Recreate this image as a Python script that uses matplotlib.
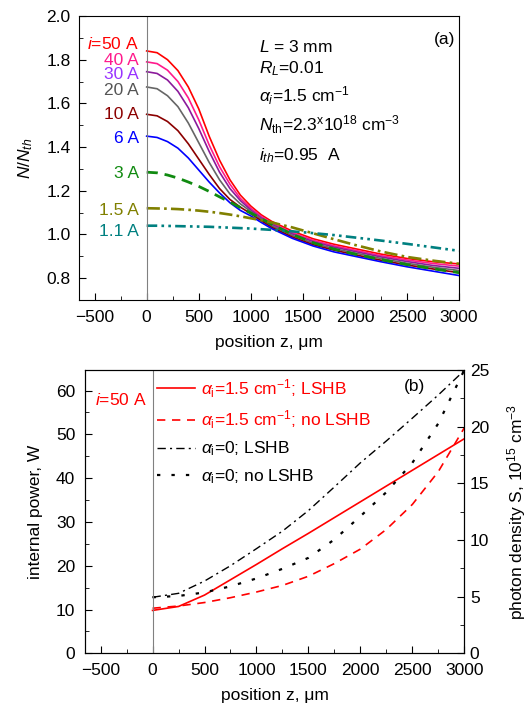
import numpy as np
import matplotlib
matplotlib.use('Agg')
import matplotlib.pyplot as plt
from matplotlib.ticker import MultipleLocator

plt.rcParams['font.family'] = ['Liberation Sans', 'DejaVu Sans']
plt.rcParams['mathtext.fontset'] = 'custom'
plt.rcParams['mathtext.rm'] = 'Liberation Sans'
plt.rcParams['mathtext.it'] = 'Liberation Sans:italic'
plt.rcParams['mathtext.bf'] = 'Liberation Sans:bold'

FS = 12.5

# ---- panel (a): N/Nth along the cavity ----
z_a = [0, 100, 200, 300, 400, 500, 600, 700, 800, 900, 1000, 1100, 1200,
       1400, 1600, 1800, 2000, 2250, 2500, 2750, 3000]
n_50 = [1.84, 1.832, 1.80, 1.75, 1.675, 1.575, 1.45, 1.34, 1.25, 1.18, 1.13, 1.09, 1.06,
        1.015, 0.98, 0.955, 0.935, 0.91, 0.89, 0.875, 0.865]
n_40 = [1.79, 1.782, 1.752, 1.70, 1.625, 1.525, 1.41, 1.31, 1.23, 1.165, 1.12, 1.083, 1.053,
        1.008, 0.973, 0.948, 0.928, 0.903, 0.883, 0.867, 0.855]
n_30 = [1.745, 1.737, 1.707, 1.655, 1.58, 1.485, 1.38, 1.285, 1.21, 1.155, 1.112, 1.076, 1.047,
        1.002, 0.967, 0.942, 0.922, 0.897, 0.876, 0.858, 0.845]
n_20 = [1.675, 1.667, 1.635, 1.585, 1.51, 1.42, 1.33, 1.25, 1.185, 1.14, 1.105, 1.07, 1.04,
        0.995, 0.96, 0.935, 0.915, 0.89, 0.868, 0.85, 0.835]
n_10 = [1.55, 1.543, 1.517, 1.475, 1.415, 1.345, 1.275, 1.21, 1.16, 1.125, 1.095, 1.063, 1.033,
        0.988, 0.953, 0.928, 0.907, 0.882, 0.86, 0.842, 0.825]
n_6 = [1.45, 1.444, 1.425, 1.395, 1.35, 1.295, 1.24, 1.19, 1.145, 1.11, 1.085, 1.055, 1.027,
       0.982, 0.947, 0.92, 0.90, 0.875, 0.852, 0.832, 0.812]
n_3 = [1.285, 1.282, 1.272, 1.258, 1.24, 1.22, 1.197, 1.172, 1.148, 1.123, 1.098, 1.073, 1.047,
       1.0, 0.962, 0.933, 0.91, 0.885, 0.862, 0.843, 0.825]
n_15 = [1.12, 1.119, 1.118, 1.116, 1.113, 1.109, 1.104, 1.098, 1.091, 1.083, 1.074, 1.065, 1.055,
        1.032, 1.005, 0.978, 0.952, 0.922, 0.897, 0.88, 0.866]
n_11 = [1.04, 1.04, 1.039, 1.038, 1.037, 1.036, 1.035, 1.033, 1.031, 1.029, 1.027, 1.024, 1.021,
        1.014, 1.006, 0.997, 0.986, 0.972, 0.957, 0.941, 0.925]

currents = ['$i$=50 A', '40 A', '30 A', '20 A', '10 A', '6 A', '3 A', '1.5 A', '1.1 A']
label_y = [1.848, 1.774, 1.710, 1.637, 1.530, 1.418, 1.259, 1.091, 0.994]

# ---- panel (b): internal power at i=50 A ----
z_b = [0, 250, 500, 750, 1000, 1250, 1500, 1750, 2000, 2250, 2500, 2750, 3000]
p_lshb = [9.8, 10.7, 13.3, 16.8, 20.3, 23.9, 27.4, 31.0, 34.6, 38.2, 41.8, 45.4, 49.0]
p_nolshb = [10.3, 10.8, 11.6, 12.7, 14.0, 15.5, 17.6, 20.5, 23.8, 28.3, 34.0, 41.5, 51.5]
p0_lshb = [12.8, 13.7, 16.5, 20.0, 23.9, 27.9, 32.6, 38.0, 43.5, 48.5, 53.7, 59.0, 64.6]
p0_nolshb = [12.8, 13.1, 13.9, 15.3, 17.1, 19.3, 21.8, 26.0, 31.3, 36.8, 43.5, 52.5, 64.7]

fig = plt.figure(figsize=(5.31, 7.05), dpi=100)
ax1 = fig.add_axes([0.1488, 0.5745, 0.7156, 0.4028])
ax2 = fig.add_axes([0.1601, 0.0733, 0.7143, 0.4019])

# panel (a)
series = [(n_50, '#ff0000', '-', 1.2),
          (n_40, '#ff1a8c', '-', 1.2),
          (n_30, '#8b1a9b', '-', 1.2),
          (n_20, '#666666', '-', 1.2),
          (n_10, '#8b0000', '-', 1.2),
          (n_6, '#0000ff', '-', 1.2),
          (n_3, '#108a10', (0, (4, 2.5)), 2.0),
          (n_15, '#808000', (0, (5, 1.6, 1, 1.6)), 1.9),
          (n_11, '#008080', (0, (4, 1.6, 1, 1.6, 1, 1.6)), 1.9)]
label_colors = ['#ff0000', '#ff1a8c', '#9933ff', '#555555', '#8b0000', '#0000ff',
                '#108a10', '#808000', '#008080']
for (vals, col, ls, lw), txt, ly, lc in zip(series, currents, label_y, label_colors):
    ax1.plot(z_a, vals, color=col, linestyle=ls, linewidth=lw)
    ax1.text(-75, ly, txt, color=lc, fontsize=FS, ha='right', va='baseline')

ax1.axvline(0, color='#808080', linewidth=0.8)
ax1.set_xlim(-650, 3000)
ax1.set_ylim(0.7, 2.0)
ax1.xaxis.set_major_locator(MultipleLocator(500))
ax1.xaxis.set_minor_locator(MultipleLocator(250))
ax1.yaxis.set_minor_locator(MultipleLocator(0.1))
ax1.set_yticks([0.8, 1.0, 1.2, 1.4, 1.6, 1.8, 2.0])
ax1.tick_params(which='both', direction='in', labelsize=FS)
ax1.tick_params(which='major', length=5)
ax1.tick_params(which='minor', length=3)
ax1.tick_params(axis='x', pad=7)
ax1.tick_params(axis='y', pad=6)
ax1.set_xlabel('position z, μm', fontsize=FS)
ax1.set_ylabel('$N/N_{th}$', fontsize=FS)
ax1.xaxis.set_label_coords(0.5, -0.123)
ax1.yaxis.set_label_coords(-0.116, 0.5)

ax1.text(1078, 1.837, '$L$ = 3 mm', fontsize=FS, va='baseline')
ax1.text(1078, 1.738, '$R_L$=0.01', fontsize=FS, va='baseline')
ax1.text(1078, 1.608, r'$\alpha_i$=1.5 cm$^{-1}$', fontsize=FS, va='baseline')
ax1.text(1078, 1.475, r'$N_{\rm th}$=2.3$^{\rm x}$10$^{18}$ cm$^{-3}$', fontsize=FS, va='baseline')
ax1.text(1078, 1.338, '$i_{th}$=0.95  A', fontsize=FS, va='baseline')
ax1.text(2960, 1.872, '(a)', fontsize=FS, ha='right', va='baseline')

# panel (b)
ax2.plot(z_b, p_lshb, color='#ff0000', linestyle='-', linewidth=1.2,
         label=r'$\alpha_{\rm i}$=1.5 cm$^{-1}$; LSHB')
ax2.plot(z_b, p_nolshb, color='#ff0000', linestyle=(0, (5, 4)), linewidth=1.2,
         label=r'$\alpha_{\rm i}$=1.5 cm$^{-1}$; no LSHB')
ax2.plot(z_b, p0_lshb, color='black', linestyle=(0, (6, 3, 1.5, 3)), linewidth=1.0,
         label=r'$\alpha_{\rm i}$=0; LSHB')
ax2.plot(z_b, p0_nolshb, color='black', linestyle=(0, (1.5, 5)), linewidth=1.6,
         label=r'$\alpha_{\rm i}$=0; no LSHB')
ax2.axvline(0, color='#808080', linewidth=0.8)
ax2.set_xlim(-650, 3000)
ax2.set_ylim(0, 64.7)
ax2.xaxis.set_major_locator(MultipleLocator(500))
ax2.xaxis.set_minor_locator(MultipleLocator(250))
ax2.yaxis.set_major_locator(MultipleLocator(10))
ax2.yaxis.set_minor_locator(MultipleLocator(5))
ax2.tick_params(which='both', direction='in', labelsize=FS)
ax2.tick_params(which='major', length=5)
ax2.tick_params(which='minor', length=3)
ax2.tick_params(axis='x', pad=7)
ax2.tick_params(axis='y', pad=7)
ax2.set_xlabel('position z, μm', fontsize=FS)
ax2.set_ylabel('internal power, W', fontsize=FS)
ax2.xaxis.set_label_coords(0.5, -0.1235)
ax2.yaxis.set_label_coords(-0.110, 0.5)

ax3 = ax2.twinx()
ax3.set_ylim(0, 25)
ax3.yaxis.set_major_locator(MultipleLocator(5))
ax3.yaxis.set_minor_locator(MultipleLocator(2.5))
ax3.tick_params(which='both', direction='in', labelsize=FS, pad=4)
ax3.tick_params(which='major', length=5)
ax3.tick_params(which='minor', length=3)
ax3.set_ylabel('photon density S, 10$^{15}$ cm$^{-3}$', fontsize=FS)
ax3.yaxis.set_label_coords(1.107, 0.5)

ax2.text(-555, 56.7, '$i$=50 A', color='#ff0000', fontsize=FS, va='baseline')
ax2.text(2620, 60.0, '(b)', fontsize=FS, ha='right', va='baseline')

leg = ax2.legend(loc='upper left', bbox_to_anchor=(0.19, 0.975), frameon=False,
                 fontsize=FS, handlelength=2.2, handletextpad=0.35,
                 borderpad=0, borderaxespad=0, labelspacing=0.5,
                 labelcolor=['#ff0000', '#ff0000', 'black', 'black'])

fig.savefig('out.png', dpi=100)
